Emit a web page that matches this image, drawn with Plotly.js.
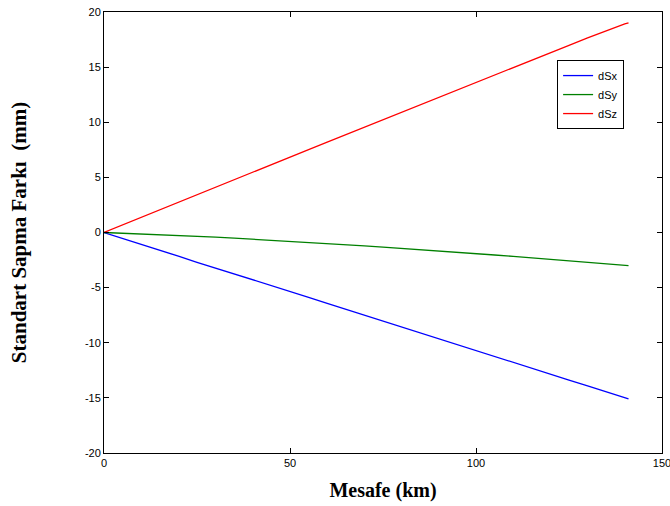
<!DOCTYPE html>
<html>
<head>
<meta charset="utf-8">
<script src="https://cdn.plot.ly/plotly-3.0.1.min.js"></script>
<style>html,body{margin:0;padding:0;background:#fff;}#chart{width:670px;height:506px;}</style>
</head>
<body>
<div id="chart"></div>
<script>
const distanceKm = [0,5,10,15,20,25,30,35,40,45,50,55,60,65,70,75,80,85,90,95,100,105,110,115,120,125,130,135,140,141];
const dSx = [0,-0.52,-1.08,-1.62,-2.15,-2.70,-3.22,-3.76,-4.30,-4.82,-5.36,-5.88,-6.43,-6.96,-7.50,-8.02,-8.57,-9.10,-9.64,-10.16,-10.71,-11.24,-11.78,-12.30,-12.85,-13.38,-13.92,-14.45,-14.99,-15.10];
const dSy = [0,-0.06,-0.12,-0.19,-0.26,-0.34,-0.42,-0.51,-0.60,-0.69,-0.79,-0.89,-0.99,-1.10,-1.21,-1.32,-1.43,-1.55,-1.67,-1.79,-1.91,-2.04,-2.17,-2.30,-2.43,-2.57,-2.70,-2.84,-2.98,-3.01];
const dSz = [0,0.69,1.38,2.06,2.75,3.43,4.11,4.80,5.48,6.16,6.84,7.52,8.20,8.88,9.56,10.24,10.92,11.60,12.27,12.95,13.63,14.30,14.98,15.65,16.32,16.98,17.65,18.32,18.92,19.02];
const seriesNames = ['dSx','dSy','dSz'];
const seriesColors = ['#0000ff','#008000','#ff0000'];
const xTicks = [0,50,100,150];
const yTicks = [-20,-15,-10,-5,0,5,10,15,20];

const seriesData = [dSx, dSy, dSz];
const traces = seriesData.map((ys, i) => ({
  x: distanceKm, y: ys, type: 'scatter', mode: 'lines', name: seriesNames[i],
  line: {color: seriesColors[i], width: 1.3}
}));

const axisCommon = {
  showgrid: false, zeroline: false, showline: true, linecolor: '#000', linewidth: 1,
  mirror: 'ticks', ticks: 'inside', ticklen: 5, tickcolor: '#000',
  ticklabeloverflow: 'allow',
  tickfont: {family: 'Liberation Sans, Arial, sans-serif', size: 11, color: '#000'}
};

const layout = {
  width: 670, height: 506,
  margin: {l: 104, r: 8, t: 12, b: 53},
  paper_bgcolor: '#fff', plot_bgcolor: '#fff',
  showlegend: true,
  legend: {
    x: 0.812, y: 0.891, xanchor: 'left', yanchor: 'top',
    bordercolor: '#000', borderwidth: 1, bgcolor: '#fff',
    font: {family: 'Liberation Sans, Arial, sans-serif', size: 11, color: '#000'},
    tracegroupgap: 0, itemwidth: 30
  },
  xaxis: Object.assign({}, axisCommon, {
    range: [0, 150], tickvals: xTicks, ticktext: xTicks.map(String),
    title: {text: '\u00a0\u00a0\u00a0\u00a0Mesafe (km)', standoff: 14,
      font: {family: 'Liberation Serif, Times New Roman, serif', size: 20, color: '#000', weight: 'bold'}}
  }),
  yaxis: Object.assign({}, axisCommon, {
    range: [-20, 20], tickvals: yTicks, ticktext: yTicks.map(String),
    title: {text: 'Standart Sapma Farkı  (mm)\u00a0\u00a0\u00a0\u00a0', standoff: 52,
      font: {family: 'Liberation Serif, Times New Roman, serif', size: 21, color: '#000', weight: 'bold'}}
  })
};

Plotly.newPlot('chart', traces, layout, {displayModeBar: false, staticPlot: true});
</script>
</body>
</html>
